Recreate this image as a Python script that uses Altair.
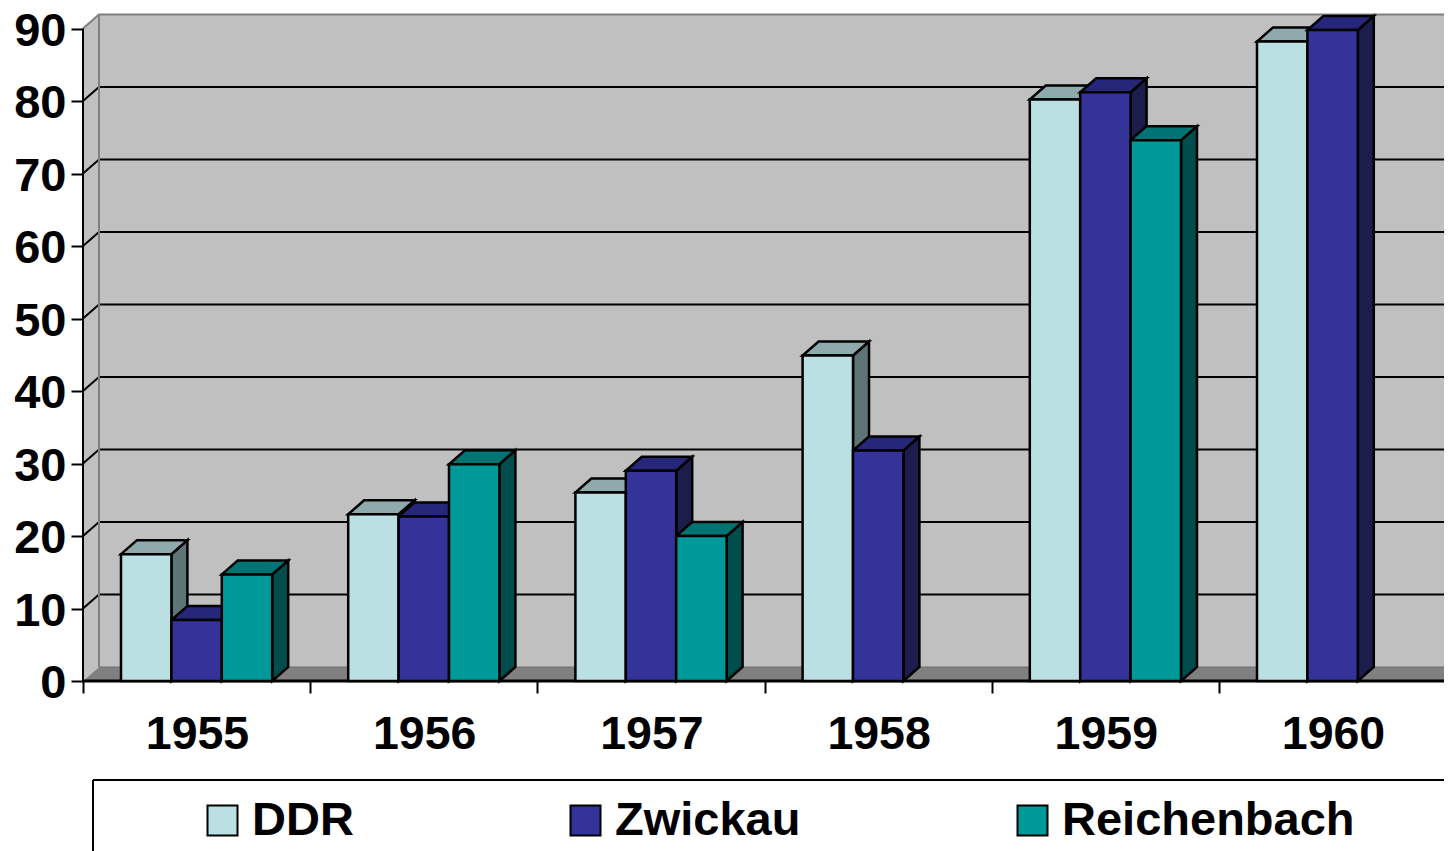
import json
import altair as alt
import pandas as pd

years = ["1955", "1956", "1957", "1958", "1959", "1960"]
series = ["DDR", "Zwickau", "Reichenbach"]
ddr = [17.5, 23.0, 26.0, 44.9, 80.2, 88.2]
zwickau = [8.4, 22.7, 29.0, 31.8, 81.2, 89.8]
reichenbach = [14.7, 29.9, 20.0, None, 74.6, None]
ticks_y = [0, 10, 20, 30, 40, 50, 60, 70, 80, 90]

front_colors = ["#BBE0E3", "#333399", "#009999"]
top_colors = ["#8FAAAC", "#26267A", "#007373"]
side_colors = ["#5F7476", "#1C1C4D", "#004D4D"]
WALL = "#C0C0C0"
FLOOR = "#808080"
EDGE = "#808080"

PX_PER_CAT = 227.2
PX_PER_UNIT = 7.25
PLOT_W, PLOT_H = 1361, 673
XMAX = PLOT_W / PX_PER_CAT
YMAX = PLOT_H / PX_PER_UNIT
DX = 16 / PX_PER_CAT
DY = 14 / PX_PER_UNIT
GAP = 38 / PX_PER_CAT
BAR = 50.4 / PX_PER_CAT

fronts, sides, tops = [], [], []
for s, vals in enumerate([ddr, zwickau, reichenbach]):
    for i, v in enumerate(vals):
        if v is None:
            continue
        x0 = i + GAP + s * BAR
        x1 = x0 + BAR
        bid = f"{s}-{i}"
        fronts.append(dict(series=series[s], x=x0, x2=x1, y=0, y2=v))
        sides += [
            dict(bar=bid, c=side_colors[s], x=x1, y=0, y2=v),
            dict(bar=bid, c=side_colors[s], x=x1 + DX, y=DY, y2=v + DY),
        ]
        tops += [
            dict(bar=bid, c=top_colors[s], y=v, x=x0, x2=x1),
            dict(bar=bid, c=top_colors[s], y=v + DY, x=x0 + DX, x2=x1 + DX),
        ]

x_scale = alt.Scale(domain=[0, XMAX], nice=False, zero=False)
y_scale = alt.Scale(domain=[0, YMAX], nice=False, zero=False)
X = lambda f="x": alt.X(f"{f}:Q", scale=x_scale, title=None)
Y = lambda f="y": alt.Y(f"{f}:Q", scale=y_scale, title=None)

FONT = "Liberation Sans"
label_expr = json.dumps(years) + "[datum.value] || ''"
x_axis = alt.Axis(values=list(range(7)), labelExpr=label_expr, labelOffset=114,
                  labelFont=FONT, labelFontSize=46.5, labelFontWeight="bold", labelColor="black",
                  labelPadding=18, labelOverlap=False, labelBound=False, labelFlush=False,
                  tickColor="black", tickWidth=2, tickSize=12, domain=False, grid=False, title=None)
y_axis = alt.Axis(values=ticks_y, labelFont=FONT, labelFontSize=47, labelFontWeight="bold",
                  labelColor="black", labelPadding=5, labelOffset=2.5, labelOverlap=False, labelBound=False,
                  labelFlush=False,
                  tickColor="black", tickWidth=2, tickSize=12, domain=False, grid=False, title=None)

# walls and floor
back = alt.Chart(pd.DataFrame([dict(x=DX, x2=XMAX, y=DY, y2=90 + DY)])).mark_rect(fill=WALL).encode(
    x=alt.X("x:Q", scale=x_scale, axis=x_axis), x2="x2:Q",
    y=alt.Y("y:Q", scale=y_scale, axis=y_axis), y2="y2:Q")
left = alt.Chart(pd.DataFrame([dict(x=0, y=0, y2=90), dict(x=DX, y=DY, y2=90 + DY)])).mark_area(
    fill=WALL, orient="vertical").encode(x=X(), y=Y(), y2="y2:Q")
floor = alt.Chart(pd.DataFrame([dict(y=0, x=0, x2=6), dict(y=DY, x=DX, x2=6 + DX)])).mark_area(
    fill=FLOOR, orient="horizontal", clip=True).encode(y=Y(), x=X(), x2="x2:Q")

# grid lines over left and back walls
grid_rows = []
for v in ticks_y[1:]:
    grid_rows += [dict(v=v, o=0, x=0, y=v), dict(v=v, o=1, x=DX, y=v + DY), dict(v=v, o=2, x=XMAX, y=v + DY)]
grid_df = pd.DataFrame(grid_rows)
grid = alt.Chart(grid_df[grid_df.v < 90]).mark_line(color="black", strokeWidth=2).encode(
    x=X(), y=Y(), detail="v:N", order="o:Q")
grid_top = alt.Chart(grid_df[grid_df.v == 90]).mark_line(color=EDGE, strokeWidth=2).encode(
    x=X(), y=Y(), detail="v:N", order="o:Q")
back_edge = alt.Chart(pd.DataFrame([dict(x=DX, y=DY, y2=90 + DY)])).mark_rule(color=EDGE, strokeWidth=2).encode(
    x=X(), y=Y(), y2="y2:Q")
floor_back = alt.Chart(pd.DataFrame([dict(x=DX, x2=XMAX, y=DY)])).mark_rule(color="#707070", strokeWidth=1).encode(
    x=X(), x2="x2:Q", y=Y())

# bars
side_layer = alt.Chart(pd.DataFrame(sides)).mark_area(orient="vertical", stroke="black", strokeWidth=2.5).encode(
    x=X(), y=Y(), y2="y2:Q", detail="bar:N", fill=alt.Fill("c:N", scale=None, legend=None))
top_layer = alt.Chart(pd.DataFrame(tops)).mark_area(orient="horizontal", stroke="black", strokeWidth=2.5).encode(
    y=Y(), x=X(), x2="x2:Q", detail="bar:N", fill=alt.Fill("c:N", scale=None, legend=None))

axis_y = alt.Chart(pd.DataFrame([dict(x=0, y=0, y2=90)])).mark_rule(color="black", strokeWidth=2).encode(
    x=X(), y=Y(), y2="y2:Q")
axis_x = alt.Chart(pd.DataFrame([dict(x=0, x2=6, y=0)])).mark_rule(color="black", strokeWidth=3).encode(
    x=X(), x2="x2:Q", y=Y())
front_layer = alt.Chart(pd.DataFrame(fronts)).mark_rect(stroke="black", strokeWidth=2.5).encode(
    x=X(), x2="x2:Q", y=Y(), y2="y2:Q",
    color=alt.Color("series:N",
                    scale=alt.Scale(domain=series, range=front_colors),
                    legend=alt.Legend(orient="none", legendX=116, legendY=789, direction="horizontal",
                                      columns=3, columnPadding=208, gridAlign="none", title=None,
                                      padding=0, symbolType="square", symbolSize=900,
                                      symbolStrokeColor="black", symbolStrokeWidth=2, symbolOpacity=1,
                                      labelFont=FONT, labelFontSize=47, labelFontWeight="bold",
                                      labelColor="black", labelOffset=6, labelLimit=400)))

# legend frame, cut off by the picture edge like the reference
frame_top = alt.Chart(pd.DataFrame([dict(x=10 / PX_PER_CAT, x2=XMAX + 1, y=-99 / PX_PER_UNIT)])).mark_rule(
    color="black", strokeWidth=2, clip=False).encode(x=X(), x2="x2:Q", y=Y())
frame_left = alt.Chart(pd.DataFrame([dict(x=10 / PX_PER_CAT, y=-99 / PX_PER_UNIT, y2=-200 / PX_PER_UNIT)])).mark_rule(
    color="black", strokeWidth=2, clip=False).encode(x=X(), y=Y(), y2="y2:Q")

chart = alt.layer(back, left, floor, grid, grid_top, back_edge, floor_back, side_layer, top_layer,
                  axis_y, axis_x, front_layer, frame_top, frame_left).properties(
    width=PLOT_W, height=PLOT_H, background="white",
    autosize=alt.AutoSizeParams(type="none"),
    padding={"left": 75, "top": 0, "right": 0, "bottom": 170},
).configure_view(stroke=None)

chart.save("out.html", embed_options={"renderer": "svg", "actions": False})
